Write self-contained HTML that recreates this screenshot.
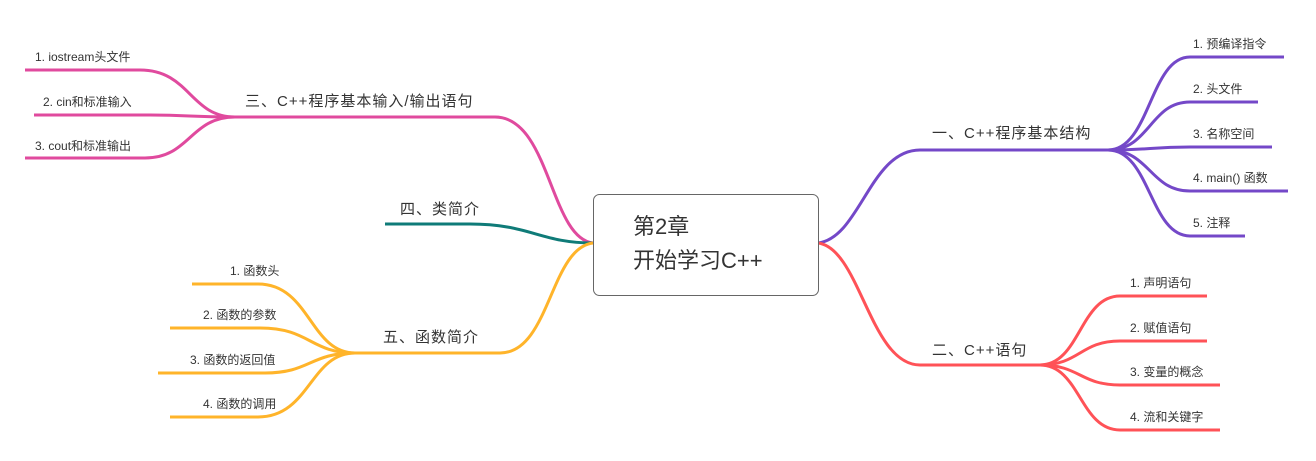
<!DOCTYPE html>
<html><head><meta charset="utf-8"><style>
html,body{margin:0;padding:0;background:#fff;}
svg{display:block;}
text{font-family:"Liberation Sans","Noto Sans CJK SC",sans-serif;fill:#333;}
</style></head><body>
<svg width="1316" height="461" viewBox="0 0 1316 461" xmlns="http://www.w3.org/2000/svg">
<g fill="none" stroke-width="3" stroke-linecap="butt">
<g stroke="#7448c8">
<path d="M818,243 C860,238 870,150 920,150 L1112,150"/>
<path d="M1108,150 C1150,150 1150,57 1190,57 L1284,57"/>
<path d="M1108,150 C1150,150 1150,102 1190,102 L1258,102"/>
<path d="M1108,150 C1150,150 1150,147 1190,147 L1272,147"/>
<path d="M1108,150 C1150,150 1150,191 1190,191 L1288,191"/>
<path d="M1108,150 C1150,150 1150,236 1190,236 L1245,236"/>
</g>
<g stroke="#ff5257">
<path d="M818,243 C860,248 870,365 920,365 L1045,365"/>
<path d="M1040,365 C1080,365 1080,296 1120,296 L1207,296"/>
<path d="M1040,365 C1080,365 1080,341 1120,341 L1207,341"/>
<path d="M1040,365 C1080,365 1080,385 1120,385 L1220,385"/>
<path d="M1040,365 C1080,365 1080,430 1120,430 L1220,430"/>
</g>
<g stroke="#e04a9e">
<path d="M593,243 C550,238 550,117 495,117 L228,117"/>
<path d="M235,117 C190,117 190,70 140,70 L25,70"/>
<path d="M235,117 C190,117 190,115 150,115 L34,115"/>
<path d="M235,117 C190,117 190,158 145,158 L25,158"/>
</g>
<path stroke="#0f7b78" d="M593,243 C540,243 530,224 470,224 L385,224"/>
<g stroke="#ffb42a">
<path d="M593,243 C550,248 550,353 500,353 L345,353"/>
<path d="M355,353 C310,353 310,284 258,284 L192,284"/>
<path d="M355,353 C310,353 310,328 260,328 L170,328"/>
<path d="M355,353 C310,353 310,373 265,373 L158,373"/>
<path d="M355,353 C310,353 310,417 258,417 L170,417"/>
</g>
</g>
<rect x="593.5" y="194.5" width="225" height="101" rx="6" fill="#fff" stroke="#666" stroke-width="1"/>
<text x="633" y="234" font-size="22">第2章</text>
<text x="633" y="268" font-size="22">开始学习C++</text>
<g font-size="15" letter-spacing="1">
<text x="932" y="138">一、C++程序基本结构</text>
<text x="932" y="355">二、C++语句</text>
<text x="245" y="106">三、C++程序基本输入/输出语句</text>
<text x="400" y="214">四、类简介</text>
<text x="383" y="342">五、函数简介</text>
</g>
<g font-size="12">
<text x="1193" y="48">1. 预编译指令</text>
<text x="1193" y="93">2. 头文件</text>
<text x="1193" y="138">3. 名称空间</text>
<text x="1193" y="182">4. main() 函数</text>
<text x="1193" y="227">5. 注释</text>
<text x="1130" y="287">1. 声明语句</text>
<text x="1130" y="332">2. 赋值语句</text>
<text x="1130" y="376">3. 变量的概念</text>
<text x="1130" y="421">4. 流和关键字</text>
<text x="35" y="61">1. iostream头文件</text>
<text x="43" y="106">2. cin和标准输入</text>
<text x="35" y="150">3. cout和标准输出</text>
<text x="230" y="275">1. 函数头</text>
<text x="203" y="319">2. 函数的参数</text>
<text x="190" y="364">3. 函数的返回值</text>
<text x="203" y="408">4. 函数的调用</text>
</g>
</svg>
</body></html>
